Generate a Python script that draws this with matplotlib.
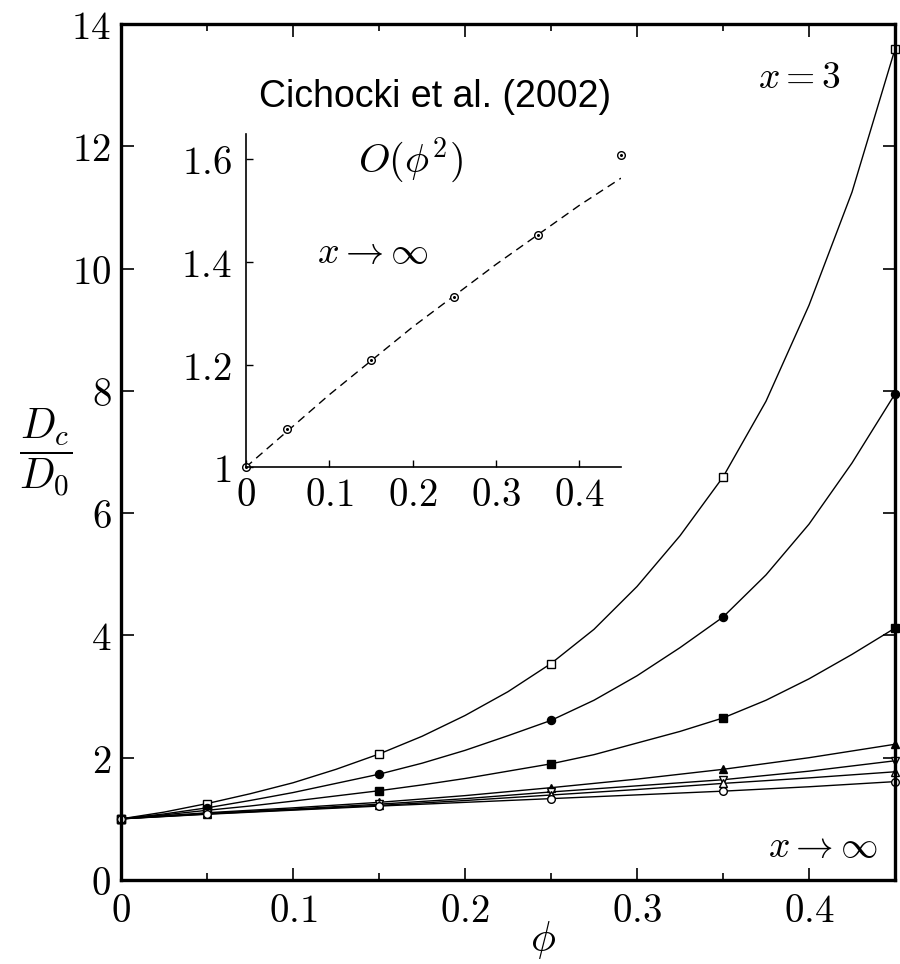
import numpy as np
import matplotlib
matplotlib.use('Agg')
import matplotlib.pyplot as plt
from matplotlib.ticker import FuncFormatter, MultipleLocator

plt.rcParams['mathtext.fontset'] = 'cm'

# main panel: fine grid for the three steep curves, coarse grid for the rest
phi_fine = [0, 0.025, 0.05, 0.075, 0.1, 0.125, 0.15, 0.175, 0.2, 0.225, 0.25,
            0.275, 0.3, 0.325, 0.35, 0.375, 0.4, 0.425, 0.45]
open_square = [1.00, 1.11, 1.25, 1.41, 1.59, 1.81, 2.06, 2.35, 2.69, 3.08, 3.54,
               4.10, 4.80, 5.63, 6.59, 7.83, 9.40, 11.25, 13.59]
filled_circle = [1.00, 1.08, 1.18, 1.30, 1.43, 1.58, 1.73, 1.91, 2.12, 2.36, 2.61,
                 2.94, 3.34, 3.80, 4.30, 4.99, 5.82, 6.82, 7.95]
filled_square = [1.00, 1.065, 1.14, 1.21, 1.29, 1.375, 1.46, 1.555, 1.66, 1.78, 1.90,
                 2.05, 2.24, 2.43, 2.65, 2.94, 3.29, 3.69, 4.12]
fine_marks = [0, 2, 6, 10, 14, 18]

phi_coarse = [0, 0.05, 0.1, 0.15, 0.2, 0.25, 0.3, 0.35, 0.4, 0.45]
filled_tri = [1.00, 1.10, 1.18, 1.27, 1.38, 1.51, 1.65, 1.81, 2.00, 2.22]
down_tri = [1.00, 1.09, 1.16, 1.24, 1.33, 1.44, 1.54, 1.64, 1.78, 1.95]
up_tri = [1.00, 1.08, 1.15, 1.22, 1.30, 1.39, 1.48, 1.58, 1.67, 1.77]
open_circle = [1.00, 1.075, 1.142, 1.209, 1.27, 1.331, 1.392, 1.453, 1.525, 1.609]
coarse_marks = [0, 1, 3, 5, 7, 9]

# inset: Cichocki et al. (2002)
inset_phi = [0, 0.05, 0.15, 0.25, 0.35, 0.45]
inset_pts = [1.0, 1.075, 1.209, 1.331, 1.453, 1.609]
dash_phi = [0, 0.1, 0.2, 0.3, 0.4, 0.45]
dash_val = [1.0, 1.141, 1.273, 1.395, 1.510, 1.563]


def cm_label(v, pos):
    return '$%g$' % round(v, 3)


fig = plt.figure(figsize=(9, 9.64), dpi=100)
ax = fig.add_axes([121 / 900, 84 / 964, 774 / 900, 856 / 964])

fine_series = [(open_square, 's', 'white'), (filled_circle, 'o', 'black'),
               (filled_square, 's', 'black')]
for vals, m, fc in fine_series:
    ax.plot(phi_fine, vals, color='black', lw=1.0, marker=m, ms=5.8,
            mfc=fc, mec='black', mew=1.0, markevery=fine_marks, clip_on=False)

coarse_series = [(filled_tri, '^', 'black'), (down_tri, 'v', 'white'),
                 (up_tri, '^', 'white'), (open_circle, 'o', 'white')]
for vals, m, fc in coarse_series:
    ax.plot(phi_coarse, vals, color='black', lw=1.0, marker=m, ms=5.5,
            mfc=fc, mec='black', mew=1.0, markevery=coarse_marks, clip_on=False)

ax.set_xlim(0, 0.45)
ax.set_ylim(0, 14)
ax.xaxis.set_major_locator(MultipleLocator(0.1))
ax.xaxis.set_minor_locator(MultipleLocator(0.05))
ax.yaxis.set_major_locator(MultipleLocator(2))
ax.xaxis.set_major_formatter(FuncFormatter(cm_label))
ax.yaxis.set_major_formatter(FuncFormatter(cm_label))
ax.tick_params(which='both', direction='in', top=True, right=True, width=1.2,
               labelsize=28, colors='black')
ax.tick_params(which='major', length=9)
ax.tick_params(axis='x', which='major', pad=9)
ax.tick_params(axis='y', which='major', pad=7)
ax.tick_params(which='minor', length=5)
ax.tick_params(axis='y', which='minor', left=False, right=False)
for s in ax.spines.values():
    s.set_linewidth(2.4)

ax.set_ylabel(r'$\dfrac{D_c}{D_0}$', fontsize=30, rotation=0, ha='center', va='center')
ax.yaxis.set_label_coords(-0.0975, 0.499)
ax.set_xlabel(r'$\phi$', fontsize=30, va='center')
ax.xaxis.set_label_coords(0.545, -0.07)

ax.text(0.877, 0.937, r'$x = 3$', transform=ax.transAxes, fontsize=27,
        ha='center', va='center')
ax.text(0.906, 0.039, r'$x \rightarrow \infty$', transform=ax.transAxes, fontsize=27,
        ha='center', va='center')

# inset
ins = fig.add_axes([245.7 / 900, 496.7 / 964, 375.3 / 900, 333.8 / 964])
ins.plot(dash_phi, dash_val, color='black', lw=1.0, dashes=(6, 4))
ins.plot(inset_phi, inset_pts, ls='none', marker='o', ms=5.5, mfc='white',
         mec='black', mew=1.0, clip_on=False)
ins.plot(inset_phi, inset_pts, ls='none', marker='o', ms=1.2, mfc='black',
         mec='black', clip_on=False)
ins.set_xlim(0, 0.45)
ins.set_ylim(1, 1.65)
ins.set_xticks([0, 0.1, 0.2, 0.3, 0.4])
ins.set_yticks([1, 1.2, 1.4, 1.6])
ins.xaxis.set_major_formatter(FuncFormatter(cm_label))
ins.yaxis.set_major_formatter(FuncFormatter(cm_label))
ins.tick_params(direction='in', length=5, width=1.0, labelsize=28)
ins.tick_params(axis='x', pad=6)
ins.tick_params(axis='y', pad=10)
ins.spines['top'].set_visible(False)
ins.spines['right'].set_visible(False)
for side in ['left', 'bottom']:
    ins.spines[side].set_linewidth(1.2)
ins.patch.set_alpha(0)

ins.text(0.504, 1.109, 'Cichocki et al. (2002)', transform=ins.transAxes,
         fontsize=27, family='Liberation Sans', ha='center', va='center')
ins.text(0.44, 0.92, r'$O(\phi^2)$', transform=ins.transAxes, fontsize=29,
         ha='center', va='center')
ins.text(0.338, 0.643, r'$x \rightarrow \infty$', transform=ins.transAxes, fontsize=27.5,
         ha='center', va='center')

fig.savefig('out.png', dpi=100)
